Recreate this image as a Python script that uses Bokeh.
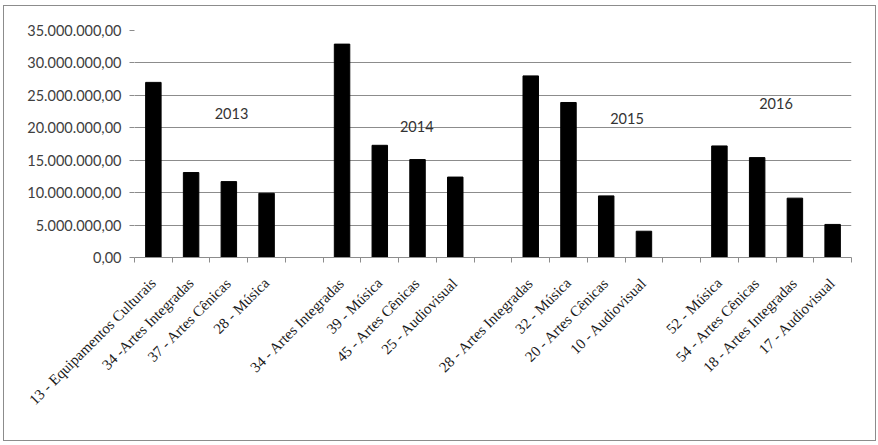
import math
from bokeh.plotting import figure
from bokeh.models import FixedTicker, ColumnDataSource, Range1d
from bokeh.core.properties import value
from bokeh.embed import file_html
from bokeh.resources import INLINE

# ---- data ----
years = ["2013", "2014", "2015", "2016"]
cats_2013 = ["13 - Equipamentos Culturais", "34 -Artes Integradas", "37 - Artes Cênicas", "28 - Música"]
vals_2013 = [27000000, 13100000, 11700000, 9900000]
cats_2014 = ["34 - Artes Integradas", "39 - Música", "45 - Artes Cênicas", "25 - Audiovisual"]
vals_2014 = [32900000, 17300000, 15100000, 12400000]
cats_2015 = ["28 - Artes Integradas", "32 - Música", "20 - Artes Cênicas", "10 - Audiovisual"]
vals_2015 = [28000000, 23900000, 9500000, 4050000]
cats_2016 = ["52 - Música", "54 - Artes Cênicas", "18 - Artes Integradas", "17 - Audiovisual"]
vals_2016 = [17200000, 15400000, 9150000, 5100000]
y_ticks = [0, 5000000, 10000000, 15000000, 20000000, 25000000, 30000000, 35000000]
y_tick_labels = ["0,00", "5.000.000,00", "10.000.000,00", "15.000.000,00", "20.000.000,00",
                 "25.000.000,00", "30.000.000,00", "35.000.000,00"]

groups_cats = [cats_2013, cats_2014, cats_2015, cats_2016]
groups_vals = [vals_2013, vals_2014, vals_2015, vals_2016]

# year label anchors (slot offset within group, value height)
year_label_dx = [2.07, 1.98, 2.55, 1.5]
year_label_y = [22200000, 20200000, 21400000, 23700000]

# ---- layout in slots: 4 bars + 1 gap per group ----
xs, tops, labels = [], [], {}
year_x = []
slot = 0
for gi, (cats, vals) in enumerate(zip(groups_cats, groups_vals)):
    start = slot
    for c, v in zip(cats, vals):
        xs.append(slot)
        tops.append(v)
        labels[slot] = c
        slot += 1
    year_x.append(start + year_label_dx[gi])
    if gi < len(groups_cats) - 1:
        slot += 1
n_slots = slot

p = figure(width=873, height=436, output_backend="svg", toolbar_location=None,
           x_range=Range1d(-0.5, n_slots - 0.5), y_range=Range1d(0, 35000000),
           min_border_left=130, min_border_right=26, min_border_top=24, min_border_bottom=185)
p.outline_line_color = None
p.background_fill_color = "white"
p.border_fill_color = "white"
p.styles = {"border": "1px solid #8c8c8c", "box-sizing": "border-box",
            "margin-left": "3px", "margin-top": "5px"}

src = ColumnDataSource(dict(x=xs, top=tops))
p.vbar(x="x", top="top", width=0.41, source=src, fill_color="black", line_color="black")

p.text(x=year_x, y=year_label_y, text=years, text_font=value("Lato"), text_font_size="14.5px",
       text_color="#333333", text_align="center", text_baseline="middle")

# x axis
p.xaxis.ticker = FixedTicker(ticks=xs, minor_ticks=[i - 0.5 for i in range(n_slots + 1)])
p.xaxis.major_label_overrides = labels
p.xaxis.major_label_orientation = math.pi / 4
p.xaxis.major_tick_out = 0
p.xaxis.major_tick_in = 0
p.xaxis.minor_tick_out = 5
p.xaxis.minor_tick_in = 0
p.xaxis.minor_tick_line_color = "#8c8c8c"
p.xaxis.axis_line_color = "#8c8c8c"
p.xaxis.major_label_text_font = "Liberation Serif"
p.xaxis.major_label_text_font_size = "15px"
p.xaxis.major_label_text_color = "#1a1a1a"
p.xaxis.major_label_standoff = 18
p.xgrid.grid_line_color = None

# y axis
p.yaxis.ticker = FixedTicker(ticks=y_ticks, minor_ticks=[])
p.yaxis.major_label_overrides = dict(zip(y_ticks, y_tick_labels))
p.yaxis.axis_line_color = None
p.yaxis.major_tick_out = 5
p.yaxis.major_tick_in = 0
p.yaxis.major_tick_line_color = "#8c8c8c"
p.yaxis.minor_tick_line_color = None
p.yaxis.major_label_text_font = "Lato"
p.yaxis.major_label_text_font_size = "14.5px"
p.yaxis.major_label_text_color = "#404040"
p.yaxis.major_label_standoff = 8
p.ygrid.grid_line_color = "#8c8c8c"
p.ygrid.grid_line_width = 1

open("out.html", "w").write(file_html(p, INLINE))
